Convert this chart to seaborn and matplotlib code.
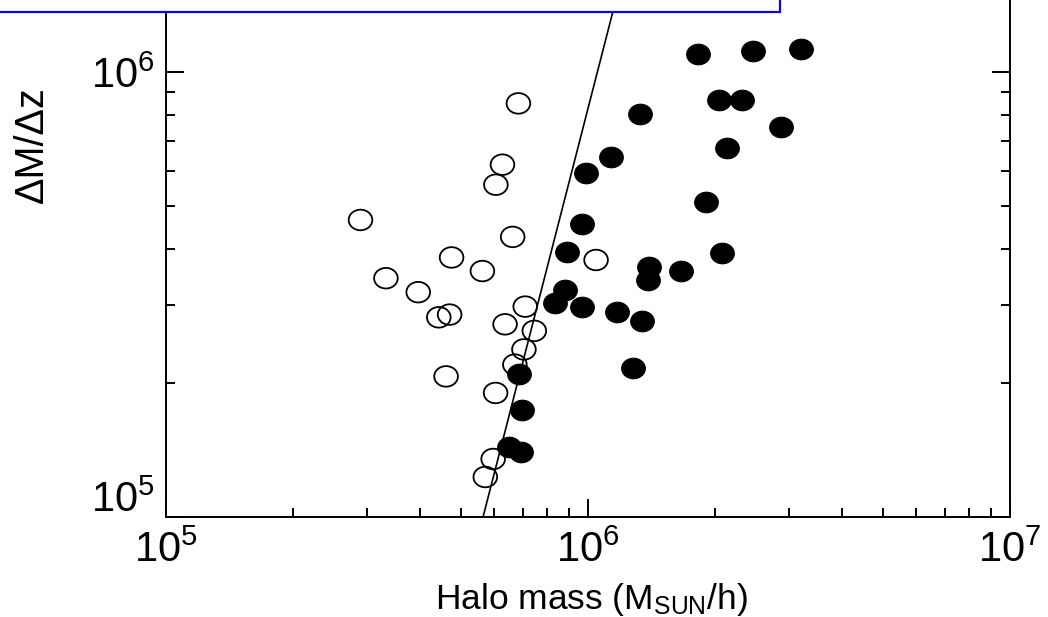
import numpy as np
import matplotlib
matplotlib.use("Agg")
import matplotlib.pyplot as plt
import seaborn as sns
from matplotlib.path import Path
from matplotlib.transforms import Affine2D, ScaledTranslation
from matplotlib.patches import Rectangle
from matplotlib.ticker import LogLocator, LogFormatterMathtext, NullFormatter

# ---------------- data ----------------
open_mass = [6.84e5, 6.27e5, 6.05e5, 2.89e5, 6.63e5, 4.75e5, 5.62e5, 3.32e5, 3.96e5,
             4.43e5, 4.70e5, 6.36e5, 7.10e5, 1.045e6, 7.46e5, 7.05e5, 6.71e5, 4.61e5,
             6.04e5, 5.96e5, 5.71e5]
open_rate = [8.50e5, 6.19e5, 5.58e5, 4.65e5, 4.26e5, 3.83e5, 3.57e5, 3.44e5, 3.20e5,
             2.81e5, 2.85e5, 2.71e5, 2.97e5, 3.78e5, 2.62e5, 2.38e5, 2.20e5, 2.07e5,
             1.90e5, 1.35e5, 1.23e5]

filled_mass = [1.823e6, 2.46e6, 3.20e6, 2.04e6, 2.32e6, 1.328e6, 2.87e6, 2.13e6, 1.134e6,
               9.89e5, 1.904e6, 9.68e5, 8.92e5, 2.08e6, 1.395e6, 1.388e6, 1.661e6, 8.82e5,
               8.35e5, 9.68e5, 1.172e6, 1.343e6, 1.279e6, 6.86e5, 6.98e5, 6.50e5, 6.94e5]
filled_rate = [1.098e6, 1.115e6, 1.126e6, 8.65e5, 8.65e5, 8.04e5, 7.52e5, 6.75e5, 6.44e5,
               5.93e5, 5.11e5, 4.55e5, 3.94e5, 3.92e5, 3.65e5, 3.41e5, 3.57e5, 3.24e5,
               3.03e5, 2.96e5, 2.89e5, 2.76e5, 2.16e5, 2.10e5, 1.74e5, 1.437e5, 1.40e5]

line_mass = [5.64e5, 1.27e6]
line_rate = [1.0e5, 2.0e6]

x_label = r"Halo mass (M$_{\mathrm{SUN}}$/h)"
y_label = "ΔM/Δz"
x_limits = (1e5, 1e7)
y_limits = (1e5, 2e6)

# ---------------- style ----------------
sns.set_style("ticks")
plt.rcParams["font.family"] = ["Liberation Sans", "DejaVu Sans"]
plt.rcParams["mathtext.fontset"] = "custom"
plt.rcParams["mathtext.rm"] = "Liberation Sans"
plt.rcParams["mathtext.it"] = "Liberation Sans:italic"
plt.rcParams["mathtext.bf"] = "Liberation Sans:bold"
plt.rcParams["axes.linewidth"] = 1.4
for key in ["text.color", "axes.labelcolor", "xtick.color", "ytick.color",
            "axes.edgecolor"]:
    plt.rcParams[key] = "black"

fig = plt.figure(figsize=(10.48, 6.17), dpi=100)
ax = fig.add_axes([166 / 1048, 100 / 617, 844 / 1048, 579 / 617])
ax.set_xscale("log")
ax.set_yscale("log")

# slightly wide ellipse marker
ell = Path.unit_circle().transformed(Affine2D().scale(1.0, 0.87))

sns.lineplot(x=line_mass, y=line_rate, ax=ax, color="black", lw=1.2,
             sort=False, zorder=2)
sns.scatterplot(x=open_mass, y=open_rate, ax=ax, marker=ell, s=290,
                facecolor="none", edgecolor="black", linewidth=1.3, zorder=3)
sns.scatterplot(x=filled_mass, y=filled_rate, ax=ax, marker=ell, s=290,
                color="black", edgecolor="black", linewidth=0.8, zorder=4)

ax.set_xlim(*x_limits)
ax.set_ylim(*y_limits)

ax.xaxis.set_major_locator(LogLocator(base=10))
ax.yaxis.set_major_locator(LogLocator(base=10))
ax.xaxis.set_minor_locator(LogLocator(base=10, subs=np.arange(2, 10)))
ax.yaxis.set_minor_locator(LogLocator(base=10, subs=np.arange(2, 10)))
ax.xaxis.set_major_formatter(LogFormatterMathtext())
ax.yaxis.set_major_formatter(LogFormatterMathtext())
ax.xaxis.set_minor_formatter(NullFormatter())
ax.yaxis.set_minor_formatter(NullFormatter())

ax.tick_params(which="both", direction="in", top=True, right=True,
               width=1.4, colors="black")
ax.tick_params(which="major", length=13, labelsize=30)
ax.tick_params(which="minor", length=6.8)
ax.tick_params(axis="x", which="major", pad=10)
ax.tick_params(axis="y", which="major", pad=8)

ax.set_xlabel(x_label, fontsize=25.5)
ax.set_ylabel(y_label, fontsize=28.5)
ax.xaxis.set_label_coords(0.504, -0.111)
ax.yaxis.set_label_coords(-0.136, 0.643)

for side in ["left", "right", "bottom", "top"]:
    ax.spines[side].set_visible(True)
    ax.spines[side].set_color("black")

# blue framed box clipped at the top edge of the picture
box = Rectangle((-0.01, 1 - 12 / 617), 780 / 1048 + 0.01, 0.1,
                transform=fig.transFigure, facecolor="white",
                edgecolor="#0a0ad0", lw=1.6, zorder=10)
fig.add_artist(box)

# the lowest y tick label sits a little above its tick in the reference
fig.canvas.draw()
for t in ax.yaxis.get_major_ticks():
    if np.isclose(t.get_loc(), 1e5):
        t.label1.set_transform(t.label1.get_transform() +
                               ScaledTranslation(0, 21 / 100, fig.dpi_scale_trans))

fig.savefig("out.png", dpi=100)
